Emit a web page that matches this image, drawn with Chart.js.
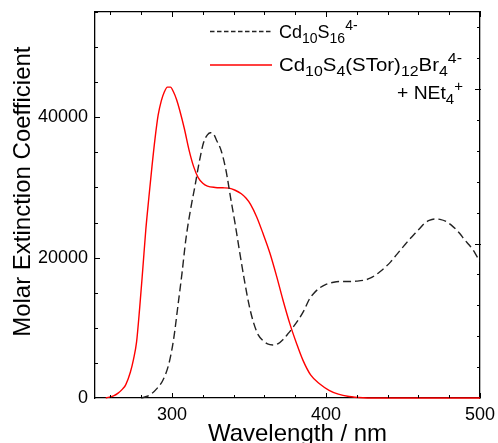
<!DOCTYPE html>
<html>
<head>
<meta charset="utf-8">
<script src="https://cdn.jsdelivr.net/npm/chart.js@4"></script>
<style>
  html, body { margin: 0; padding: 0; background: #fff; overflow: hidden; }
  #wrap { width: 498px; height: 443px; overflow: hidden; }
</style>
</head>
<body>
<div id="wrap"><canvas id="uvChart" width="498" height="460"></canvas></div>
<script>
// Cd10S4(STor)12Br4 4- + NEt4+  (red, solid)
const redNm = [257, 262, 265, 268, 270, 273, 275, 277, 279, 281, 283, 285, 287, 289, 291, 293, 295, 297, 299,
  301, 303, 305, 308, 311, 314, 317, 320, 323, 328, 333, 337, 341, 345, 348, 351, 355, 359, 363.5, 368, 372,
  376.5, 381, 385, 390, 396, 402, 408, 415, 424, 430, 500];
const redEps = [0, 300, 700, 1300, 1900, 3700, 5500, 8000, 12800, 18300, 24000, 28600, 33000, 37000, 40300, 42300, 43600, 44300, 44300,
  43600, 42500, 41000, 38400, 35400, 33000, 31400, 30600, 30200, 30000, 29950, 29900, 29600, 29100, 28500, 27600, 25800, 23500, 20700, 17300, 14000,
  10600, 7700, 5400, 3300, 2000, 1100, 550, 220, 40, 0, 0];

// Cd10S16 4-  (black, dashed)
const blackNm = [280, 284, 287, 290, 294, 298, 301, 304, 306.5, 309, 312, 315, 317.5, 320.5, 323, 325, 327, 329,
  332, 335, 338, 341, 344, 347, 350, 353, 356, 359, 362, 365.5, 369, 372, 375.5, 379, 382.5, 386, 389, 392, 396,
  400, 405, 410, 415, 420, 425, 429, 432, 435, 438.5, 442, 445, 448, 451.5, 455, 458, 461, 464, 467, 471, 474,
  478, 481, 484.5, 487, 490, 493, 495.5, 498.5, 500];
const blackEps = [0, 250, 650, 1300, 2500, 4900, 8300, 13400, 17800, 22600, 26800, 30300, 33400, 36400, 37500, 37800, 37600, 36700,
  35200, 32500, 28600, 24800, 20700, 16800, 13300, 10700, 9000, 8200, 7700, 7550, 7750, 8300, 9200, 10200, 11300, 12600, 14000, 14900, 15700,
  16200, 16500, 16600, 16600, 16650, 16800, 17100, 17500, 18000, 18650, 19400, 20200, 21000, 21900, 22800, 23500, 24200, 24900, 25300, 25500, 25450,
  25150, 24700, 24000, 23400, 22550, 21800, 21100, 20000, 19500];

const xLabelTicks = [300, 400, 500];
const yLabelTicks = [0, 20000, 40000];

const FONT = "'Liberation Sans', Arial, sans-serif";

function pts(xs, ys) {
  return xs.map((x, i) => ({ x: x, y: ys[i] }));
}

function noPad(s) {
  s.paddingTop = 0; s.paddingBottom = 0; s.paddingLeft = 0; s.paddingRight = 0;
}

// inward tick marks on all four sides
const innerTicks = {
  id: 'innerTicks',
  afterDatasetsDraw(chart) {
    const ctx = chart.ctx;
    const a = chart.chartArea;
    ctx.save();
    ctx.strokeStyle = '#000';
    ctx.lineWidth = 1;
    const xs = chart.scales.x;
    for (let v = 260; v <= 500; v += 20) {
      const px = Math.round(xs.getPixelForValue(v)) + 0.5;
      const len = v % 100 === 0 ? 5 : 3;
      ctx.beginPath();
      ctx.moveTo(px, a.bottom); ctx.lineTo(px, a.bottom - len);
      ctx.moveTo(px, a.top); ctx.lineTo(px, a.top + len);
      ctx.stroke();
    }
    const ys = chart.scales.y;
    for (let v = 5000; v <= 55000; v += 5000) {
      const py = Math.round(ys.getPixelForValue(v)) + 0.5;
      const len = v % 20000 === 0 ? 5 : 3;
      ctx.beginPath();
      ctx.moveTo(a.left, py); ctx.lineTo(a.left + len, py);
      ctx.stroke();
    }
    const y2 = chart.scales.y2;
    for (let i = 1; i <= 12; i++) {
      const v = i * 0.2;
      const py = Math.round(y2.getPixelForValue(v)) + 0.5;
      const major = i % 5 === 0;
      ctx.beginPath();
      ctx.moveTo(a.right + (major ? 1 : 0), py); ctx.lineTo(a.right - (major ? 5 : 3), py);
      ctx.stroke();
    }
    ctx.restore();
  }
};

// legend with sub/superscripts
function richText(ctx, parts, x, base, draw) {
  let cx = x;
  parts.forEach(p => {
    const size = p[1] === 'n' ? 18 : 14;
    const dy = p[1] === 'sub' ? 5 : (p[1] === 'sup' ? -8 : 0);
    ctx.font = size + 'px ' + FONT;
    if (draw) ctx.fillText(p[0], cx, base + dy);
    cx += ctx.measureText(p[0]).width;
  });
  return cx - x;
}

const legendPlugin = {
  id: 'richLegend',
  afterDraw(chart) {
    const ctx = chart.ctx;
    ctx.save();
    ctx.fillStyle = '#000';
    ctx.textBaseline = 'alphabetic';
    ctx.textAlign = 'left';
    // sample lines
    ctx.lineWidth = 1.3;
    ctx.strokeStyle = '#222';
    ctx.setLineDash([4.5, 2.5]);
    ctx.beginPath(); ctx.moveTo(210, 31.5); ctx.lineTo(272, 31.5); ctx.stroke();
    ctx.setLineDash([]);
    ctx.strokeStyle = '#ff0000';
    ctx.beginPath(); ctx.moveTo(210, 65); ctx.lineTo(272, 65); ctx.stroke();

    richText(ctx, [['Cd', 'n'], ['10', 'sub'], ['S', 'n'], ['16', 'sub'], ['4-', 'sup']], 279, 37.5, true);

    const l2 = [['Cd', 'n'], ['10', 'sub'], ['S', 'n'], ['4', 'sub'], ['(STor)', 'n'], ['12', 'sub'], ['Br', 'n'], ['4', 'sub'], ['4-', 'sup']];
    const w2 = richText(ctx, l2, 0, 0, false);
    const sx = (462 - 279) / w2;
    ctx.save();
    ctx.translate(279, 0);
    ctx.scale(sx, 1);
    richText(ctx, l2, 0, 71, true);
    ctx.restore();

    const l3 = [['+ NEt', 'n'], ['4', 'sub'], ['+', 'sup']];
    const w3 = richText(ctx, l3, 0, 0, false);
    const sx3 = (463 - 397) / w3;
    ctx.save();
    ctx.translate(397, 0);
    ctx.scale(sx3, 1);
    richText(ctx, l3, 0, 98.5, true);
    ctx.restore();
    ctx.restore();
  }
};

new Chart(document.getElementById('uvChart'), {
  type: 'line',
  data: {
    datasets: [
      {
        label: 'Cd10S16 4-',
        data: pts(blackNm, blackEps),
        borderColor: '#222',
        borderWidth: 1.4,
        borderDash: [8, 4],
        pointRadius: 0,
        cubicInterpolationMode: 'monotone',
        fill: false,
        clip: { left: 0, top: 0, right: 0, bottom: 2 }
      },
      {
        label: 'Cd10S4(STor)12Br4 4- + NEt4+',
        data: pts(redNm, redEps),
        borderColor: '#ff0000',
        borderWidth: 1.4,
        pointRadius: 0,
        cubicInterpolationMode: 'monotone',
        fill: false,
        clip: { left: 0, top: 0, right: 0, bottom: 2 }
      }
    ]
  },
  options: {
    responsive: false,
    animation: false,
    devicePixelRatio: 1,
    layout: { padding: { left: 0, top: 12, right: 18, bottom: 0 } },
    plugins: {
      legend: { display: false },
      tooltip: { enabled: false }
    },
    scales: {
      x: {
        type: 'linear',
        position: 'bottom',
        min: 250,
        max: 500,
        afterBuildTicks: s => { s.ticks = xLabelTicks.map(v => ({ value: v })); },
        afterFit: s => { s.height = 62; noPad(s); },
        grid: { display: false, drawTicks: false },
        border: { display: true, color: '#000', width: 1.3 },
        ticks: { color: '#000', font: { family: FONT, size: 18 }, padding: 6, maxRotation: 0 },
        title: {
          display: true,
          text: '   Wavelength / nm',
          color: '#000',
          font: { family: FONT, size: 24 },
          padding: { top: 0, bottom: 11 }
        }
      },
      x2: {
        type: 'linear',
        position: 'top',
        min: 250,
        max: 500,
        afterFit: s => { s.height = 0; noPad(s); },
        grid: { display: false, drawTicks: false },
        border: { display: true, color: '#000', width: 1.3 },
        ticks: { display: false }
      },
      y: {
        type: 'linear',
        position: 'left',
        min: 0,
        max: 55000,
        afterBuildTicks: s => { s.ticks = yLabelTicks.map(v => ({ value: v })); },
        afterFit: s => { s.width = 95; noPad(s); },
        grid: { display: false, drawTicks: false },
        border: { display: true, color: '#000', width: 1.3 },
        ticks: { color: '#000', font: { family: FONT, size: 18 }, padding: 7, callback: v => String(v) },
        title: {
          display: true,
          text: '    Molar Extinction Coefficient',
          color: '#000',
          font: { family: FONT, size: 24 },
          padding: { top: 9, bottom: 0 }
        }
      },
      y2: {
        type: 'linear',
        position: 'right',
        min: 0,
        max: 2.5,
        afterFit: s => { s.width = 0; noPad(s); },
        grid: { display: false, drawTicks: false },
        border: { display: true, color: '#000', width: 1.3 },
        ticks: { display: false }
      }
    }
  },
  plugins: [innerTicks, legendPlugin]
});
</script>
</body>
</html>
